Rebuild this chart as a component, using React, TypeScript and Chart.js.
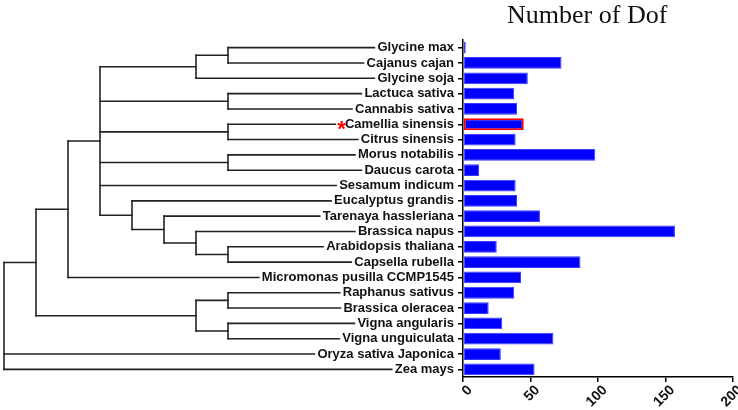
import React, { useEffect, useRef } from "react";
import { Chart, registerables } from "chart.js";

Chart.register(...registerables);

// ---------- data ----------
const species: string[] = [
  "Glycine max",
  "Cajanus cajan",
  "Glycine soja",
  "Lactuca sativa",
  "Cannabis sativa",
  "Camellia sinensis",
  "Citrus sinensis",
  "Morus notabilis",
  "Daucus carota",
  "Sesamum indicum",
  "Eucalyptus grandis",
  "Tarenaya hassleriana",
  "Brassica napus",
  "Arabidopsis thaliana",
  "Capsella rubella",
  "Micromonas pusilla CCMP1545",
  "Raphanus sativus",
  "Brassica oleracea",
  "Vigna angularis",
  "Vigna unguiculata",
  "Oryza sativa Japonica",
  "Zea mays",
];

const dofCounts: number[] = [
  2, 73, 48, 38, 40, 45, 39, 98, 12, 39, 40, 57, 157, 25, 87, 43, 38, 19, 29, 67, 28, 53,
];

const xTicks: number[] = [0, 50, 100, 150, 200];
const highlighted = "Camellia sinensis";
const titleText = "Number of Dof";

// cladogram: internal nodes carry their depth level
type TreeNode = string | { level: number; children: TreeNode[] };
const tree: TreeNode = {
  level: 0,
  children: [
    {
      level: 1,
      children: [
        {
          level: 2,
          children: [
            {
              level: 3,
              children: [
                { level: 6, children: [{ level: 7, children: ["Glycine max", "Cajanus cajan"] }, "Glycine soja"] },
                { level: 7, children: ["Lactuca sativa", "Cannabis sativa"] },
                { level: 7, children: ["Camellia sinensis", "Citrus sinensis"] },
                { level: 7, children: ["Morus notabilis", "Daucus carota"] },
                "Sesamum indicum",
                {
                  level: 4,
                  children: [
                    "Eucalyptus grandis",
                    {
                      level: 5,
                      children: [
                        "Tarenaya hassleriana",
                        {
                          level: 6,
                          children: [
                            "Brassica napus",
                            { level: 7, children: ["Arabidopsis thaliana", "Capsella rubella"] },
                          ],
                        },
                      ],
                    },
                  ],
                },
              ],
            },
            "Micromonas pusilla CCMP1545",
          ],
        },
        {
          level: 6,
          children: [
            { level: 7, children: ["Raphanus sativus", "Brassica oleracea"] },
            { level: 7, children: ["Vigna angularis", "Vigna unguiculata"] },
          ],
        },
      ],
    },
    "Oryza sativa Japonica",
    "Zea mays",
  ],
};

// ---------- styles ----------
const LABEL_FONT = "bold 13px 'Liberation Sans', Arial, sans-serif";
const STAR_FONT = "bold 22px 'Liberation Sans', Arial, sans-serif";
const TICK_LEN = 5;
const TICK_PAD = 4;
const TREE_LEFT = 4;
const TREE_STEP = 32;

const treePlugin = {
  id: "phyloTree",
  afterDraw(chart: any) {
    const ctx: CanvasRenderingContext2D = chart.ctx;
    const yScale = chart.scales.y;
    const labelRight = yScale.right - TICK_LEN - TICK_PAD;
    ctx.save();
    ctx.strokeStyle = "#222";
    ctx.lineWidth = 1.6;
    ctx.lineCap = "square";

    const line = (x1: number, y1: number, x2: number, y2: number) => {
      ctx.beginPath();
      ctx.moveTo(x1, y1);
      ctx.lineTo(x2, y2);
      ctx.stroke();
    };

    ctx.font = LABEL_FONT;
    const hlTextW = ctx.measureText(highlighted).width;
    ctx.font = STAR_FONT;
    const starW = ctx.measureText("*").width;

    const draw = (node: TreeNode, parentX: number | null): number => {
      if (typeof node === "string") {
        const idx = species.indexOf(node);
        const yy = yScale.getPixelForValue(idx);
        ctx.font = LABEL_FONT;
        let w = ctx.measureText(node).width;
        if (node === highlighted) w += starW - 2;
        const end = labelRight - w - 3;
        if (parentX !== null) line(parentX, yy, end, yy);
        return yy;
      }
      const nx = TREE_LEFT + node.level * TREE_STEP;
      const ys = node.children.map((c) => draw(c, nx));
      const top = ys[0];
      const bot = ys[ys.length - 1];
      line(nx, top, nx, bot);
      const mid = (top + bot) / 2;
      if (parentX !== null) line(parentX, mid, nx, mid);
      return mid;
    };
    draw(tree, null);

    // red asterisk
    const hy = yScale.getPixelForValue(species.indexOf(highlighted));
    ctx.font = STAR_FONT;
    ctx.fillStyle = "#ff0000";
    ctx.textAlign = "right";
    ctx.textBaseline = "alphabetic";
    ctx.fillText("*", labelRight - hlTextW + 1, hy + 12);

    // title
    ctx.font = "26px 'Liberation Serif', 'Times New Roman', serif";
    ctx.fillStyle = "#111";
    ctx.textAlign = "center";
    ctx.fillText(titleText, chart.chartArea.left + (chart.chartArea.right - chart.chartArea.left) * 0.46, 23);
    ctx.restore();
  },
};

export default function App() {
  const ref = useRef<HTMLCanvasElement | null>(null);

  useEffect(() => {
    if (!ref.current) return;
    Chart.defaults.font.family = "'Liberation Sans', Arial, sans-serif";
    const chart = new Chart(ref.current, {
      type: "bar",
      data: {
        labels: species,
        datasets: [
          {
            label: titleText,
            data: dofCounts,
            backgroundColor: "#0000ff",
            borderColor: species.map((s) => (s === highlighted ? "#ff0000" : "#3a3aff")),
            borderWidth: species.map((s) => (s === highlighted ? 2 : 1)),
            borderSkipped: false,
            barPercentage: 0.77,
            categoryPercentage: 1,
          },
        ],
      },
      options: {
        indexAxis: "y",
        responsive: false,
        animation: false,
        layout: { padding: { top: 40, right: 5, bottom: 0, left: 0 } },
        plugins: {
          legend: { display: false },
          tooltip: { enabled: false },
          title: { display: false },
        },
        scales: {
          x: {
            type: "linear",
            min: 0,
            max: 200,
            afterBuildTicks: (scale: any) => {
              scale.ticks = xTicks.map((v) => ({ value: v }));
            },
            afterFit: (scale: any) => {
              scale.height = 33;
              scale.paddingRight = 0;
              scale.paddingLeft = 0;
            },
            grid: {
              drawOnChartArea: false,
              drawTicks: true,
              tickLength: TICK_LEN,
              color: "#000",
              lineWidth: 1.5,
            },
            border: { display: true, color: "#000", width: 1.5 },
            ticks: {
              minRotation: 45,
              maxRotation: 45,
              padding: 0,
              labelOffset: 7,
              color: "#111",
              font: { size: 14, weight: "bold" },
            },
          },
          y: {
            type: "category",
            afterFit: (scale: any) => {
              scale.width = 463;
            },
            grid: {
              offset: false,
              drawOnChartArea: false,
              drawTicks: true,
              tickLength: TICK_LEN,
              color: "#000",
              lineWidth: 1.5,
            },
            border: { display: true, color: "#000", width: 1.5 },
            ticks: {
              padding: TICK_PAD,
              color: "#111",
              autoSkip: false,
              font: { size: 13, weight: "bold" },
            },
          },
        },
      },
      plugins: [treePlugin],
    } as any);
    return () => chart.destroy();
  }, []);

  return (
    <div style={{ position: "absolute", left: 0, top: 0, width: 738, height: 410, background: "#fff" }}>
      <canvas ref={ref} width={738} height={410} style={{ display: "block" }} />
    </div>
  );
}
